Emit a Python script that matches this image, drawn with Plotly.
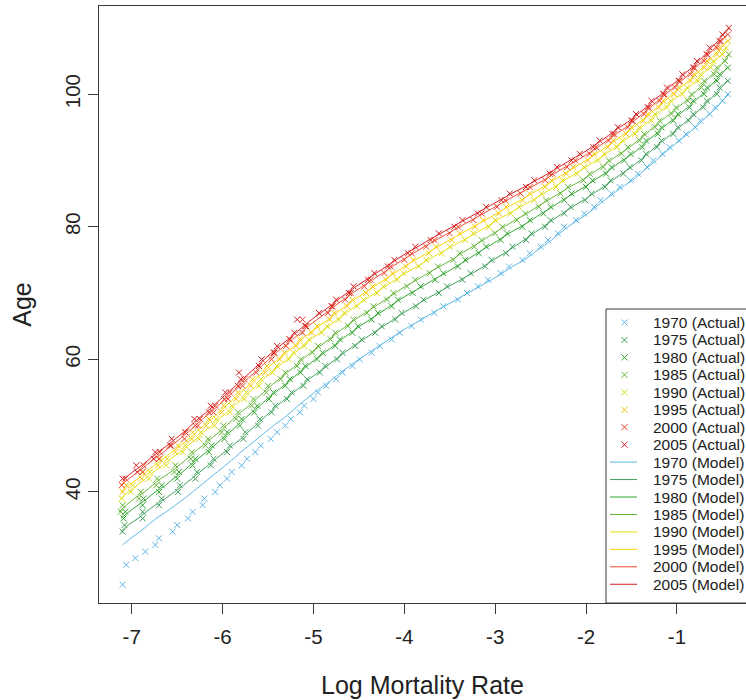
import plotly.graph_objects as go

years = [1970, 1975, 1980, 1985, 1990, 1995, 2000, 2005]
colors_actual = ['#58b6e6', '#3c9e58', '#2fa52f', '#62b535', '#dcd80c', '#f4c200', '#ee3c28', '#d21c1c']
colors_model = ['#58b6e6', '#3c9e58', '#2fa52f', '#62b535', '#e4e010', '#f8d400', '#f04a30', '#d21c1c']

# Model (fitted) log mortality rate by age, first age given in model_start
model_start = [32, 34, 36, 37, 39, 40, 41, 42]
model_1970 = [-7.10, -7.01, -6.91, -6.82, -6.73, -6.62, -6.52, -6.42, -6.33, -6.24, -6.15, -6.06, -5.97, -5.88, -5.80, -5.71, -5.62, -5.53, -5.44, -5.34, -5.25, -5.17, -5.08, -4.99, -4.89, -4.79, -4.70, -4.60, -4.50, -4.39, -4.28, -4.17, -4.06, -3.94, -3.81, -3.69, -3.56, -3.43, -3.30, -3.17, -3.04, -2.92, -2.81, -2.68, -2.58, -2.48, -2.38, -2.29, -2.20, -2.09, -1.98, -1.89, -1.80, -1.70, -1.60, -1.49, -1.40, -1.32, -1.23, -1.15, -1.06, -0.97, -0.88, -0.80, -0.72, -0.64, -0.56, -0.50, -0.43]
model_1975 = [-7.12, -7.04, -6.93, -6.84, -6.74, -6.63, -6.53, -6.43, -6.34, -6.25, -6.16, -6.07, -5.98, -5.89, -5.80, -5.72, -5.64, -5.56, -5.48, -5.40, -5.31, -5.22, -5.13, -5.05, -4.95, -4.85, -4.76, -4.66, -4.56, -4.45, -4.34, -4.23, -4.12, -4.01, -3.89, -3.77, -3.64, -3.51, -3.38, -3.25, -3.13, -3.02, -2.90, -2.79, -2.68, -2.58, -2.47, -2.37, -2.26, -2.15, -2.03, -1.92, -1.81, -1.71, -1.61, -1.50, -1.41, -1.32, -1.24, -1.15, -1.06, -0.97, -0.89, -0.80, -0.73, -0.65, -0.58, -0.51, -0.45]
model_1980 = [-7.12, -7.03, -6.93, -6.83, -6.74, -6.63, -6.54, -6.44, -6.36, -6.27, -6.18, -6.09, -6.01, -5.92, -5.84, -5.76, -5.68, -5.59, -5.51, -5.42, -5.33, -5.24, -5.16, -5.07, -4.98, -4.88, -4.78, -4.69, -4.59, -4.49, -4.38, -4.27, -4.16, -4.05, -3.93, -3.80, -3.68, -3.55, -3.43, -3.31, -3.20, -3.08, -2.96, -2.85, -2.72, -2.60, -2.49, -2.37, -2.26, -2.14, -2.02, -1.91, -1.80, -1.70, -1.60, -1.49, -1.40, -1.32, -1.23, -1.15, -1.06, -0.97, -0.88, -0.80, -0.72, -0.65, -0.58, -0.51, -0.45]
model_1985 = [-7.14, -7.06, -6.97, -6.86, -6.77, -6.68, -6.57, -6.48, -6.39, -6.31, -6.22, -6.13, -6.04, -5.96, -5.88, -5.80, -5.71, -5.63, -5.55, -5.47, -5.38, -5.29, -5.20, -5.12, -5.03, -4.93, -4.83, -4.74, -4.64, -4.54, -4.43, -4.32, -4.21, -4.10, -3.99, -3.86, -3.74, -3.61, -3.48, -3.37, -3.25, -3.13, -3.02, -2.90, -2.78, -2.65, -2.54, -2.42, -2.30, -2.18, -2.05, -1.94, -1.83, -1.73, -1.63, -1.52, -1.43, -1.34, -1.26, -1.17, -1.08, -0.99, -0.90, -0.82, -0.75, -0.68, -0.61, -0.54, -0.48, -0.42]
model_1990 = [-7.12, -7.04, -6.94, -6.85, -6.76, -6.66, -6.57, -6.47, -6.38, -6.29, -6.21, -6.12, -6.04, -5.95, -5.87, -5.79, -5.71, -5.63, -5.55, -5.47, -5.38, -5.29, -5.20, -5.12, -5.03, -4.93, -4.83, -4.74, -4.64, -4.54, -4.43, -4.32, -4.21, -4.10, -3.99, -3.86, -3.74, -3.61, -3.48, -3.35, -3.22, -3.09, -2.98, -2.85, -2.72, -2.59, -2.47, -2.35, -2.24, -2.12, -2.00, -1.89, -1.78, -1.68, -1.58, -1.48, -1.39, -1.30, -1.22, -1.13, -1.05, -0.96, -0.87, -0.79, -0.72, -0.65, -0.58, -0.51, -0.45]
model_1995 = [-7.12, -7.03, -6.93, -6.84, -6.75, -6.65, -6.56, -6.46, -6.37, -6.29, -6.21, -6.12, -6.04, -5.96, -5.88, -5.80, -5.72, -5.64, -5.56, -5.48, -5.39, -5.30, -5.21, -5.13, -5.04, -4.94, -4.84, -4.75, -4.65, -4.55, -4.44, -4.33, -4.22, -4.11, -4.00, -3.88, -3.75, -3.63, -3.50, -3.37, -3.24, -3.11, -2.98, -2.86, -2.72, -2.60, -2.47, -2.36, -2.24, -2.12, -2.00, -1.89, -1.78, -1.68, -1.58, -1.48, -1.39, -1.30, -1.22, -1.13, -1.05, -0.96, -0.87, -0.79, -0.72, -0.65, -0.58, -0.51, -0.45]
model_2000 = [-7.12, -7.03, -6.93, -6.84, -6.75, -6.65, -6.56, -6.47, -6.38, -6.30, -6.22, -6.13, -6.05, -5.97, -5.89, -5.81, -5.73, -5.65, -5.57, -5.49, -5.41, -5.32, -5.23, -5.14, -5.06, -4.96, -4.86, -4.77, -4.67, -4.57, -4.46, -4.35, -4.24, -4.13, -4.02, -3.90, -3.78, -3.65, -3.52, -3.39, -3.26, -3.13, -3.00, -2.87, -2.74, -2.60, -2.47, -2.35, -2.23, -2.10, -1.98, -1.87, -1.77, -1.67, -1.56, -1.47, -1.38, -1.29, -1.21, -1.12, -1.04, -0.95, -0.87, -0.79, -0.72, -0.65, -0.58, -0.51, -0.45]
model_2005 = [-7.08, -6.99, -6.89, -6.80, -6.71, -6.61, -6.52, -6.43, -6.35, -6.27, -6.18, -6.10, -6.02, -5.94, -5.86, -5.78, -5.70, -5.62, -5.54, -5.46, -5.37, -5.28, -5.19, -5.11, -5.02, -4.92, -4.82, -4.73, -4.63, -4.53, -4.42, -4.31, -4.20, -4.09, -3.98, -3.85, -3.73, -3.60, -3.47, -3.34, -3.21, -3.08, -2.95, -2.82, -2.68, -2.55, -2.42, -2.30, -2.18, -2.05, -1.94, -1.83, -1.73, -1.63, -1.52, -1.43, -1.34, -1.26, -1.17, -1.09, -1.00, -0.92, -0.84, -0.76, -0.69, -0.62, -0.55, -0.49, -0.42]

# Observed log mortality rate by age, first age given in actual_start (None = not shown)
actual_start = [26, 34, 36, 37, 39, 40, 41, 42]
actual_1970 = [-7.10, None, None, -7.06, -6.96, -6.85, -6.74, -6.70, -6.55, -6.50, -6.38, -6.33, -6.22, -6.20, -6.08, -6.03, -5.95, -5.90, -5.79, -5.73, -5.64, -5.58, -5.47, -5.40, -5.31, -5.25, -5.15, -5.10, -5.00, -4.95, -4.86, -4.75, -4.68, -4.57, -4.49, -4.36, -4.27, -4.14, -4.05, -3.92, -3.82, -3.67, -3.57, -3.41, -3.31, -3.19, -3.08, -2.94, -2.85, -2.70, -2.62, -2.50, -2.42, -2.31, -2.24, -2.11, -2.02, -1.91, -1.84, -1.72, -1.63, -1.51, -1.43, -1.33, -1.26, -1.16, -1.08, -0.98, -0.90, -0.80, -0.74, -0.64, -0.58, -0.50, -0.44]
actual_1975 = [-7.10, -7.08, -6.88, -6.88, -6.70, -6.67, -6.49, -6.47, -6.30, -6.28, -6.13, -6.10, -5.95, -5.92, -5.77, -5.75, -5.61, -5.59, -5.46, -5.42, -5.29, -5.24, -5.11, -5.07, -4.93, -4.87, -4.74, -4.68, -4.54, -4.47, -4.32, -4.25, -4.10, -4.03, -3.87, -3.79, -3.62, -3.53, -3.36, -3.27, -3.11, -3.04, -2.88, -2.81, -2.66, -2.60, -2.45, -2.39, -2.24, -2.17, -2.01, -1.94, -1.79, -1.73, -1.59, -1.52, -1.39, -1.34, -1.22, -1.17, -1.04, -0.99, -0.87, -0.82, -0.71, -0.67, -0.56, -0.53, -0.44]
actual_1980 = [-7.09, -7.07, -6.88, -6.87, -6.70, -6.67, -6.50, -6.48, -6.33, -6.30, -6.15, -6.12, -5.98, -5.95, -5.81, -5.79, -5.65, -5.62, -5.49, -5.44, -5.31, -5.26, -5.14, -5.09, -4.96, -4.90, -4.76, -4.71, -4.57, -4.51, -4.36, -4.29, -4.14, -4.07, -3.91, -3.82, -3.66, -3.57, -3.41, -3.33, -3.18, -3.10, -2.94, -2.87, -2.70, -2.62, -2.47, -2.39, -2.24, -2.16, -2.00, -1.93, -1.78, -1.72, -1.58, -1.51, -1.38, -1.34, -1.21, -1.17, -1.04, -0.99, -0.86, -0.82, -0.70, -0.67, -0.56, -0.53, -0.44]
actual_1985 = [-7.12, -7.10, -6.92, -6.90, -6.73, -6.72, -6.53, -6.52, -6.35, -6.34, -6.19, -6.16, -6.01, -5.99, -5.85, -5.83, -5.68, -5.66, -5.52, -5.50, -5.36, -5.31, -5.18, -5.14, -5.01, -4.95, -4.81, -4.76, -4.62, -4.56, -4.41, -4.34, -4.19, -4.12, -3.97, -3.88, -3.72, -3.63, -3.46, -3.39, -3.23, -3.15, -3.00, -2.92, -2.76, -2.67, -2.52, -2.44, -2.28, -2.20, -2.03, -1.96, -1.81, -1.75, -1.61, -1.54, -1.41, -1.36, -1.24, -1.19, -1.06, -1.01, -0.88, -0.84, -0.73, -0.70, -0.59, -0.56, -0.47, -0.43]
actual_1990 = [-7.11, -7.01, -6.99, -6.81, -6.80, -6.62, -6.61, -6.44, -6.41, -6.26, -6.24, -6.09, -6.07, -5.92, -5.90, -5.76, -5.74, -5.60, -5.58, -5.45, -5.40, -5.27, -5.22, -5.10, -5.05, -4.91, -4.85, -4.72, -4.66, -4.52, -4.45, -4.30, -4.23, -4.08, -4.01, -3.84, -3.76, -3.59, -3.50, -3.33, -3.24, -3.07, -3.00, -2.83, -2.74, -2.57, -2.49, -2.33, -2.26, -2.10, -2.02, -1.87, -1.80, -1.66, -1.60, -1.46, -1.41, -1.28, -1.24, -1.11, -1.07, -0.94, -0.89, -0.77, -0.74, -0.63, -0.60, -0.50, -0.46]
actual_1995 = [-7.10, -7.06, -6.89, -6.88, -6.71, -6.69, -6.52, -6.49, -6.34, -6.33, -6.18, -6.15, -6.01, -5.99, -5.85, -5.83, -5.69, -5.67, -5.53, -5.51, -5.37, -5.32, -5.19, -5.15, -5.02, -4.96, -4.82, -4.77, -4.63, -4.57, -4.42, -4.35, -4.20, -4.13, -3.98, -3.90, -3.73, -3.65, -3.48, -3.39, -3.22, -3.13, -2.96, -2.88, -2.70, -2.62, -2.45, -2.38, -2.22, -2.14, -1.98, -1.91, -1.76, -1.70, -1.56, -1.50, -1.37, -1.32, -1.20, -1.15, -1.03, -0.98, -0.85, -0.81, -0.70, -0.67, -0.56, -0.53, -0.44]
actual_2000 = [-7.11, -7.07, -6.88, -6.87, -6.70, -6.69, -6.58, -6.42, -6.41, -6.27, -6.25, -6.10, -6.08, -5.94, -5.92, -5.78, -5.76, -5.63, -5.60, -5.46, -5.44, -5.30, -5.26, -5.12, -5.08, -5.12, -4.84, -4.79, -4.65, -4.59, -4.44, -4.37, -4.22, -4.15, -4.00, -3.92, -3.76, -3.67, -3.50, -3.41, -3.24, -3.15, -2.98, -2.89, -2.72, -2.62, -2.45, -2.37, -2.21, -2.12, -1.96, -1.89, -1.75, -1.69, -1.54, -1.49, -1.36, -1.31, -1.19, -1.14, -1.02, -0.97, -0.85, -0.81, -0.70, -0.67, -0.56, -0.52, -0.44]
actual_2005 = [-7.10, -6.94, -6.95, -6.76, -6.74, -6.57, -6.56, -6.41, -6.30, -6.31, -6.15, -6.13, -5.98, -5.97, -5.83, -5.80, -5.82, -5.60, -5.57, -5.43, -5.40, -5.26, -5.21, -5.09, -5.18, -4.94, -4.80, -4.75, -4.61, -4.56, -4.40, -4.33, -4.18, -4.11, -3.96, -3.88, -3.71, -3.62, -3.45, -3.36, -3.19, -3.10, -2.93, -2.84, -2.66, -2.57, -2.40, -2.32, -2.16, -2.07, -1.92, -1.85, -1.71, -1.65, -1.50, -1.45, -1.32, -1.28, -1.15, -1.11, -0.98, -0.94, -0.82, -0.78, -0.67, -0.64, -0.53, -0.50, -0.43]

x_ticks = [-7, -6, -5, -4, -3, -2, -1]
y_ticks = [40, 60, 80, 100]

models = [model_1970, model_1975, model_1980, model_1985, model_1990, model_1995, model_2000, model_2005]
actuals = [actual_1970, actual_1975, actual_1980, actual_1985, actual_1990, actual_1995, actual_2000, actual_2005]

fig = go.Figure()
for yr, c, start, vals in zip(years, colors_actual, actual_start, actuals):
    ages = list(range(start, start + len(vals)))
    fig.add_trace(go.Scatter(
        x=vals, y=ages, mode='markers', name=f'{yr} (Actual)', showlegend=False,
        marker=dict(symbol='x-thin', size=6, color=c, line=dict(width=1, color=c)),
    ))
for yr, c, start, vals in zip(years, colors_model, model_start, models):
    ages = list(range(start, start + len(vals)))
    fig.add_trace(go.Scatter(
        x=vals, y=ages, mode='lines', name=f'{yr} (Model)', showlegend=False,
        line=dict(color=c, width=1, shape='spline', smoothing=0.6),
    ))

# ---- legend box (drawn as layout shapes / annotations, R-style spacing) ----
PLOT_L, PLOT_W, PLOT_B, PLOT_H = 99, 647, 603, 597

def fx(px):
    return (px - PLOT_L) / PLOT_W

def fy(py):
    return (PLOT_B - py) / PLOT_H

axis_col = '#3a3a3a'
shapes = [dict(type='rect', xref='paper', yref='paper', x0=fx(606), x1=fx(820),
               y0=fy(603), y1=fy(309), line=dict(color=axis_col, width=1),
               fillcolor='white', layer='above')]
annotations = []
labels = [f'{y} (Actual)' for y in years] + [f'{y} (Model)' for y in years]
row0, row_step = 322.5, 17.45
for i, lab in enumerate(labels):
    cy = row0 + i * row_step
    if i < 8:
        c = colors_actual[i]
        cx, h = 624.5, 3
        path = (f'M {fx(cx - h)} {fy(cy - h)} L {fx(cx + h)} {fy(cy + h)} '
                f'M {fx(cx - h)} {fy(cy + h)} L {fx(cx + h)} {fy(cy - h)}')
        shapes.append(dict(type='path', xref='paper', yref='paper', path=path,
                           line=dict(color=c, width=1), layer='above'))
    else:
        c = colors_model[i - 8]
        shapes.append(dict(type='line', xref='paper', yref='paper', x0=fx(610), x1=fx(637),
                           y0=fy(cy), y1=fy(cy), line=dict(color=c, width=1), layer='above'))
    annotations.append(dict(xref='paper', yref='paper', x=fx(651), y=fy(cy), text=lab,
                            xanchor='left', yanchor='middle', showarrow=False,
                            font=dict(size=15.5, color='#222222')))

fig.update_layout(
    width=746, height=700, autosize=False,
    margin=dict(l=PLOT_L, r=0, t=6, b=97, autoexpand=False),
    paper_bgcolor='white', plot_bgcolor='white',
    font=dict(family='Liberation Sans, Arial, sans-serif', size=20.5, color='#222222'),
    showlegend=False,
    shapes=shapes, annotations=annotations,
    xaxis=dict(
        range=[-7.36, -0.24], tickmode='array', tickvals=x_ticks,
        ticktext=[str(v) for v in x_ticks],
        ticks='outside', ticklen=10, tickcolor=axis_col, tickwidth=1,
        ticklabelstandoff=5,
        showline=True, linecolor=axis_col, linewidth=1, mirror=True,
        showgrid=False, zeroline=False, automargin=False,
        title=dict(text='Log Mortality Rate', standoff=29),
    ),
    yaxis=dict(
        range=[23.24, 113.3], tickmode='array', tickvals=y_ticks,
        ticks='outside', ticklen=10, tickcolor=axis_col, tickwidth=1,
        showline=True, linecolor=axis_col, linewidth=1, tickangle=-90,
        showgrid=False, zeroline=False, automargin=False,
        title=dict(text='Age', standoff=22),
    ),
)

fig.write_html('out.html')
